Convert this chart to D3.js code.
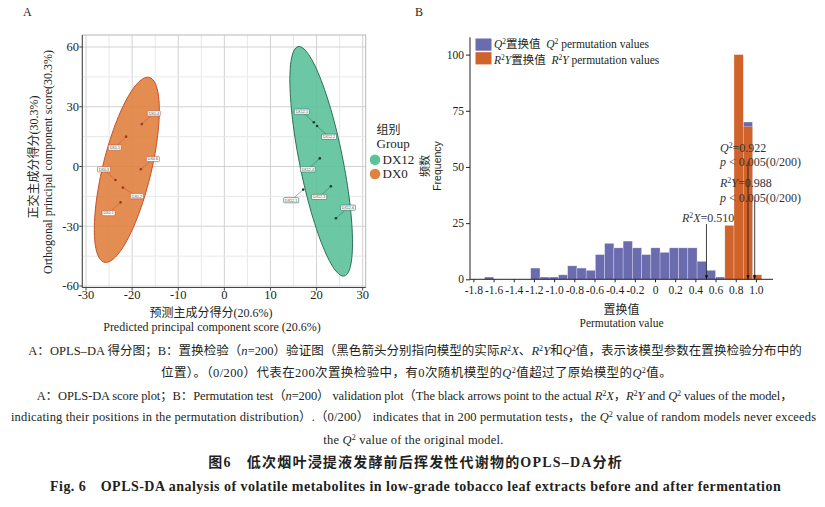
<!DOCTYPE html>
<html>
<head>
<meta charset="utf-8">
<script src="https://cdn.jsdelivr.net/npm/d3@7"></script>
<style>
body{margin:0;background:#fff;}
svg{display:block;}
text{font-family:"Liberation Serif","Noto Sans CJK SC",serif;fill:#231f20;}
</style>
</head>
<body>
<div id="chart"></div>
<script>
// ---------- panel A : OPLS-DA scores
const sampleNames = ["DX0-1","DX0-2","DX0-3","DX0-4","DX0-5","DX0-6",
                     "DX12-1","DX12-2","DX12-3","DX12-4","DX12-5","DX12-6"];
const sampleGroup = ["DX0","DX0","DX0","DX0","DX0","DX0",
                     "DX12","DX12","DX12","DX12","DX12","DX12"];
const predScore = [-22.5,-22.0,-23.6,-17.9,-21.3,-18.1, 17.1,20.1,23.1,20.7,19.4,24.2];
const orthScore = [-18.0,-10.6,-6.8,21.3,15.0,-1.4, -11.6,20.3,-9.9,4.1,22.2,-26.0];
const groupNames = ["DX12","DX0"];
// 95% ellipses (centre + covariance, in score units)
const ellCx = [21.0,-21.15];
const ellCy = [2.6,-1.66];
const ellVarX = [46.1,49.7];
const ellVarY = [3322,2160.6];
const ellCov = [-277.5,210.7];
const xTicksA = [-30,-20,-10,0,10,20,30];
const yTicksA = [-60,-30,0,30,60];

// ---------- panel B : permutation test histogram
const binEdges = [-1.690,-1.598,-1.507,-1.415,-1.324,-1.232,-1.140,-1.049,-0.957,-0.866,
                  -0.774,-0.682,-0.591,-0.499,-0.408,-0.316,-0.224,-0.133,-0.041,0.050,
                  0.142,0.234,0.325,0.417,0.508,0.600,0.692,0.783,0.875,0.966,1.058];
const q2Counts = [1,0,0,0,0,5,1,1,2,6,5,4,11,16,14,17,14,11,14,12,14,14,14,8,4,1,0,0,70,0];
const r2yCounts = [0,0,0,0,0,0,0,0,0,0,0,0,0,0,0,0,0,0,0,0,0,0,0,0,0,0,24,100,68,2];
const xTicksB = [-1.8,-1.6,-1.4,-1.2,-1.0,-0.8,-0.6,-0.4,-0.2,0,0.2,0.4,0.6,0.8,1.0];
const xTickLabelsB = ["-1.8","-1.6","-1.4","-1.2","-1.0","-0.8","-0.6","-0.4","-0.2","0","0.2","0.4","0.6","0.8","1.0"];
const yTicksB = [0,25,50,75,100];
const modelNames = ["R2X","Q2","R2Y"];
const modelValues = [0.510,0.922,0.988];

const captionLines = [
  "A：OPLS–DA 得分图；B：置换检验（<i>n</i>=200）验证图（黑色箭头分别指向模型的实际<i>R</i><sup>2</sup><i>X</i>、<i>R</i><sup>2</sup><i>Y</i>和<i>Q</i><sup>2</sup>值，表示该模型参数在置换检验分布中的",
  "位置）。（0/200）代表在200次置换检验中，有0次随机模型的<i>Q</i><sup>2</sup>值超过了原始模型的<i>Q</i><sup>2</sup>值。",
  "A：OPLS-DA score plot；B：Permutation test（<i>n</i>=200） validation plot（The black arrows point to the actual <i>R</i><sup>2</sup><i>X</i>，<i>R</i><sup>2</sup><i>Y</i> and <i>Q</i><sup>2</sup> values of the model，",
  "indicating their positions in the permutation distribution）.（0/200） indicates that in 200 permutation tests，the <i>Q</i><sup>2</sup> value of random models never exceeds",
  "the <i>Q</i><sup>2</sup> value of the original model.",
  "图6　低次烟叶浸提液发酵前后挥发性代谢物的OPLS–DA分析",
  "Fig. 6　OPLS-DA analysis of volatile metabolites in low-grade tobacco leaf extracts before and after fermentation"
];

const svg = d3.select("#chart").append("svg").attr("width",825).attr("height",507);

// rich text helper: <i>..</i> italic, <sup>..</sup> superscript
function rich(sel, str){
  str.split(/(<i>.*?<\/i>|<sup>.*?<\/sup>)/).forEach(p=>{
    if(!p) return;
    if(p.startsWith("<i>")) sel.append("tspan").attr("font-style","italic").text(p.slice(3,-4));
    else if(p.startsWith("<sup>")) sel.append("tspan").attr("baseline-shift","super").attr("font-size","65%").text(p.slice(5,-6));
    else sel.append("tspan").text(p);
  });
  return sel;
}

// ================= panel A =================
const xA = d3.scaleLinear().domain([-30,30]).range([86,362.7]);
const yA = d3.scaleLinear().domain([-60,60]).range([286,47]);
const boxA = {l:82.3,r:365.7,t:35,b:287.5};
const colA = {DX0:"#e0813f",DX12:"#5cc29a"};
const lineA = {DX0:"#c4502a",DX12:"#2f6f55"};
const dotA = {DX0:"#a8302a",DX12:"#1e3a2e"};

const gA = svg.append("g");
gA.selectAll(".gx").data(d3.range(-30,31,5)).join("line")
  .attr("x1",d=>xA(d)).attr("x2",d=>xA(d)).attr("y1",boxA.t).attr("y2",boxA.b)
  .attr("stroke",d=>d%10===0?"#d2d2d2":"#e8e8e8").attr("stroke-width",1);
gA.selectAll(".gy").data(d3.range(-60,61,15)).join("line")
  .attr("y1",d=>yA(d)).attr("y2",d=>yA(d)).attr("x1",boxA.l).attr("x2",boxA.r)
  .attr("stroke",d=>d%30===0?"#d2d2d2":"#e8e8e8").attr("stroke-width",1);
gA.append("rect").attr("x",boxA.l).attr("y",boxA.t).attr("width",boxA.r-boxA.l).attr("height",boxA.b-boxA.t)
  .attr("fill","none").attr("stroke","#b8b8b8");

function ellipsePath(i){
  const l11=Math.sqrt(ellVarX[i]), l21=ellCov[i]/l11, l22=Math.sqrt(ellVarY[i]-l21*l21);
  const pts=d3.range(0,360,3).map(a=>{
    const t=a*Math.PI/180, u=Math.cos(t), v=Math.sin(t);
    return [xA(ellCx[i]+l11*u), yA(ellCy[i]+l21*u+l22*v)];
  });
  return d3.line().curve(d3.curveCardinalClosed)(pts);
}
gA.selectAll(".ell").data(groupNames).join("path")
  .attr("d",(d,i)=>ellipsePath(i))
  .attr("fill",d=>colA[d]).attr("fill-opacity",0.9)
  .attr("stroke",d=>lineA[d]).attr("stroke-width",1);

// axes
gA.append("line").attr("x1",boxA.l).attr("x2",boxA.l).attr("y1",boxA.t).attr("y2",boxA.b).attr("stroke","#444");
gA.append("line").attr("x1",boxA.l).attr("x2",boxA.r).attr("y1",boxA.b).attr("y2",boxA.b).attr("stroke","#444");
gA.selectAll(".tx").data(xTicksA).join("line")
  .attr("x1",d=>xA(d)).attr("x2",d=>xA(d)).attr("y1",boxA.b).attr("y2",boxA.b+3).attr("stroke","#444");
gA.selectAll(".txl").data(xTicksA).join("text")
  .attr("x",d=>xA(d)).attr("y",298.5).attr("text-anchor","middle").attr("font-size",12.5).text(d=>d);
gA.selectAll(".ty").data(yTicksA).join("line")
  .attr("y1",d=>yA(d)).attr("y2",d=>yA(d)).attr("x1",boxA.l-3).attr("x2",boxA.l).attr("stroke","#444");
gA.selectAll(".tyl").data(yTicksA).join("text")
  .attr("x",79).attr("y",d=>yA(d)+4.3).attr("text-anchor","end").attr("font-size",12.5).text(d=>d);

// sample labels
const nudge = {"DX0-1":[-12,10.7],"DX0-2":[14,8.6],"DX0-3":[-11.5,-10.7],"DX0-4":[12,-10.7],"DX0-5":[-11.3,11],"DX0-6":[12,-10.3],
  "DX12-1":[-12,10.6],"DX12-2":[12,10.7],"DX12-3":[-11.7,10.7],"DX12-4":[-12,11],"DX12-5":[-12,-10.6],"DX12-6":[12,-10.6]};
const pts = sampleNames.map((n,i)=>({n, g:sampleGroup[i], x:xA(predScore[i]), y:yA(orthScore[i])}));
const lab = gA.selectAll(".lab").data(pts).join("g");
lab.append("line").attr("x1",d=>d.x).attr("y1",d=>d.y)
  .attr("x2",d=>d.x+nudge[d.n][0]).attr("y2",d=>d.y+nudge[d.n][1])
  .attr("stroke",d=>lineA[d.g]).attr("stroke-width",0.5);
lab.append("rect")
  .attr("x",d=>d.x+nudge[d.n][0]-(d.g==="DX0"?6.5:7.5)).attr("y",d=>d.y+nudge[d.n][1]-2.6)
  .attr("width",d=>d.g==="DX0"?13:15).attr("height",5.2).attr("rx",0.8)
  .attr("fill","#fff").attr("stroke",d=>lineA[d.g]).attr("stroke-width",0.6);
lab.append("text").attr("x",d=>d.x+nudge[d.n][0]).attr("y",d=>d.y+nudge[d.n][1]+1.3)
  .attr("text-anchor","middle").attr("font-size",3.6).style("font-family","Liberation Sans")
  .style("fill","#444").text(d=>d.n);
lab.append("circle").attr("cx",d=>d.x).attr("cy",d=>d.y).attr("r",1.3).attr("fill",d=>dotA[d.g]);

// axis titles A
gA.append("text").attr("x",211).attr("y",317).attr("text-anchor","middle").attr("font-size",12).text("预测主成分得分(20.6%)");
gA.append("text").attr("x",212).attr("y",331).attr("text-anchor","middle").attr("font-size",12).text("Predicted principal component score (20.6%)");
gA.append("text").attr("transform","translate(38,157) rotate(-90)").attr("text-anchor","middle").attr("font-size",12).text("正交主成分得分(30.3%)");
gA.append("text").attr("transform","translate(51.5,162) rotate(-90)").attr("text-anchor","middle").attr("font-size",12).text("Orthogonal principal component score(30.3%)");
svg.append("text").attr("x",23).attr("y",16).attr("font-size",12).text("A");

// legend A
gA.append("text").attr("x",376.5).attr("y",134).attr("font-size",12).text("组别");
gA.append("text").attr("x",376.5).attr("y",148).attr("font-size",13).text("Group");
const legA = gA.selectAll(".lg").data(groupNames).join("g");
legA.append("circle").attr("cx",375).attr("cy",(d,i)=>159.7+i*14.3).attr("r",5.3).attr("fill",d=>colA[d]);
legA.append("text").attr("x",382.5).attr("y",(d,i)=>164+i*14).attr("font-size",13).text(d=>d);

// ================= panel B =================
const xB = d3.scaleLinear().domain([-1.8,1.0]).range([473.4,755.9]);
const yB = d3.scaleLinear().domain([0,100]).range([279.3,54.6]);
const blue = "#6b6bb0", orange = "#d0632b";
const gB = svg.append("g");

const bins = d3.range(q2Counts.length).map(i=>({x0:binEdges[i],x1:binEdges[i+1],q:q2Counts[i],r:r2yCounts[i]}));
gB.selectAll(".bq").data(bins.filter(d=>d.q>0)).join("rect")
  .attr("x",d=>xB(d.x0)).attr("width",d=>xB(d.x1)-xB(d.x0))
  .attr("y",d=>yB(d.q)).attr("height",d=>yB(0)-yB(d.q))
  .attr("fill",blue).attr("stroke","#ffffff").attr("stroke-opacity",0.45).attr("stroke-width",0.6);
gB.selectAll(".br").data(bins.filter(d=>d.r>0)).join("rect")
  .attr("x",d=>xB(d.x0)).attr("width",d=>xB(d.x1)-xB(d.x0))
  .attr("y",d=>yB(d.r)).attr("height",d=>yB(0)-yB(d.r))
  .attr("fill",orange).attr("stroke","#ffffff").attr("stroke-opacity",0.45).attr("stroke-width",0.6);

// axes B
const axY = gB.append("g").attr("transform","translate(470,0)")
  .call(d3.axisLeft(yB).tickValues(yTicksB).tickSize(4).tickPadding(2));
axY.select(".domain").remove();
gB.append("line").attr("x1",470).attr("x2",470).attr("y1",37.3).attr("y2",279.3).attr("stroke","#222");
const axX = gB.append("g").attr("transform","translate(0,279.3)")
  .call(d3.axisBottom(xB).tickValues(xTicksB).tickFormat((d,i)=>xTickLabelsB[i]).tickSize(3).tickPadding(4));
axX.select(".domain").remove();
gB.append("line").attr("x1",470).attr("x2",773).attr("y1",279.3).attr("y2",279.3).attr("stroke","#222");
gB.selectAll(".tick line").attr("stroke","#222");
gB.selectAll(".tick text").attr("font-size",11.5).style("font-family","Liberation Serif").style("fill","#231f20");

// arrows
const arrowTop = [24.6,52.3,35.3];
svg.append("defs").append("marker").attr("id","ah").attr("viewBox","0 0 10 10")
  .attr("refX",10).attr("refY",5).attr("markerWidth",5).attr("markerHeight",5).attr("orient","auto")
  .append("path").attr("d","M0,1L10,5L0,9Z").attr("fill","#111");

// annotation text
const annB = [
  ["<i>Q</i><sup>2</sup>=0.922",720,151.7],
  ["<i>p</i> < 0.005(0/200)",720,165.7],
  ["<i>R</i><sup>2</sup><i>Y</i>=0.988",720,187.3],
  ["<i>p</i> < 0.005(0/200)",720,201.7],
  ["<i>R</i><sup>2</sup><i>X</i>=0.510",682,222]
];
annB.forEach(a=>rich(gB.append("text").attr("x",a[1]).attr("y",a[2]).attr("font-size",12).style("fill","#333"),a[0]));
gB.selectAll(".arr").data(modelValues).join("line")
  .attr("x1",d=>xB(d)).attr("x2",d=>xB(d))
  .attr("y1",(d,i)=>yB(arrowTop[i])).attr("y2",yB(0))
  .attr("stroke","#111").attr("stroke-width",0.8).attr("marker-end","url(#ah)");

// legend B
const legB = [["<i>Q</i><sup>2</sup>置换值\u00a0\u00a0<i>Q</i><sup>2</sup> permutation values",blue],
              ["<i>R</i><sup>2</sup><i>Y</i>置换值\u00a0\u00a0<i>R</i><sup>2</sup><i>Y</i> permutation values",orange]];
legB.forEach((l,i)=>{
  gB.append("rect").attr("x",475.5).attr("y",38.5+i*13.7).attr("width",16).attr("height",12.2).attr("fill",l[1]);
  rich(gB.append("text").attr("x",494).attr("y",48+i*16).attr("font-size",11.5),l[0]);
});

// axis titles B
gB.append("text").attr("transform","translate(429,166) rotate(-90)").attr("text-anchor","middle").attr("font-size",11).text("频数");
gB.append("text").attr("transform","translate(441,166) rotate(-90)").attr("text-anchor","middle").attr("font-size",10.5)
  .style("font-family","Liberation Sans").text("Frequency");
gB.append("text").attr("x",621.5).attr("y",314).attr("text-anchor","middle").attr("font-size",12).text("置换值");
gB.append("text").attr("x",621.5).attr("y",326.5).attr("text-anchor","middle").attr("font-size",11.5).text("Permutation value");
svg.append("text").attr("x",415).attr("y",16).attr("font-size",12).text("B");

// ================= caption =================
const capX = [28.3,161,36.7,11,323.3,208.3,50];
const capW = [773.4,510.7,756,805,180,413.4,730.7];
const capY = [355,377,400,421.3,443.5,466.5,490.5];
const capSize = [12.5,12.5,12.5,12.5,12.5,14,14];
captionLines.forEach((c,i)=>{
  const t = svg.append("text").attr("x",capX[i]).attr("y",capY[i]).attr("font-size",capSize[i])
    .attr("textLength",capW[i]).attr("lengthAdjust","spacing");
  if(i>=5) t.attr("font-weight","bold");
  rich(t,c);
});
</script>
</body>
</html>
